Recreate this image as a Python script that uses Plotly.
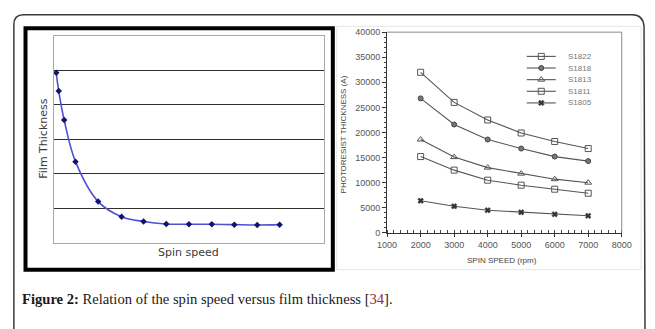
import plotly.graph_objects as go

W, H = 655, 329

# ---------------- data ----------------
# Left chart (schematic, arbitrary units)
left_speed = [0, 0.11, 0.35, 0.85, 1.85, 2.88, 3.85, 4.85, 5.85, 6.86, 7.85, 8.86, 9.85]
left_thick = [4.93, 4.40, 3.56, 2.35, 1.19, 0.75, 0.61, 0.54, 0.53, 0.53, 0.52, 0.51, 0.52]

# Right chart
spin_rpm = [2000, 3000, 4000, 5000, 6000, 7000]
series_names = ["S1822", "S1818", "S1813", "S1811", "S1805"]
s1822 = [32000, 26000, 22500, 19900, 18200, 16800]
s1818 = [26800, 21600, 18600, 16800, 15200, 14300]
s1813 = [18600, 15100, 13000, 11800, 10700, 10000]
s1811 = [15200, 12500, 10500, 9500, 8700, 7900]
s1805 = [6400, 5300, 4500, 4100, 3700, 3400]
y_ticks = [0, 5000, 10000, 15000, 20000, 25000, 30000, 35000, 40000]
x_ticks = [1000, 2000, 3000, 4000, 5000, 6000, 7000, 8000]


def px(x):
    return x / W


def py(y):
    return 1 - y / H


fig = go.Figure()

# Left chart
fig.add_trace(go.Scatter(
    x=left_speed, y=left_thick, mode="lines+markers",
    line=dict(color="#5050d4", width=1.6, shape="spline", smoothing=1.0),
    marker=dict(symbol="diamond", size=5, color="#14146e"),
    xaxis="x", yaxis="y", showlegend=False, hoverinfo="skip"))

# Right chart
symbols = ["square-open", "circle", "triangle-up-open", "square-open", "x"]
sizes = [6, 5, 6, 6, 5]


def marker_style(sym, sz):
    if sym == "circle":
        return dict(symbol=sym, size=sz, color="#777777", line=dict(color="#444444", width=1))
    if sym == "x":
        return dict(symbol=sym, size=sz, color="#333333", line=dict(width=0.5, color="#333333"))
    return dict(symbol=sym, size=sz, color="#555555", line=dict(color="#444444", width=1))


for name, vals, sym, sz in zip(series_names, [s1822, s1818, s1813, s1811, s1805], symbols, sizes):
    fig.add_trace(go.Scatter(
        x=spin_rpm, y=vals, mode="lines+markers", name=name,
        line=dict(color="#555555", width=1.1),
        marker=marker_style(sym, sz), xaxis="x2", yaxis="y2",
        showlegend=False, hoverinfo="skip"))

# Compact legend (glyphs on a pixel-unit overlay axis)
LEG_X0, LEG_X1, LEG_TOP, LEG_STEP, LEG_TEXT_X = 533, 563, 53, 12, 573
ann = []
for i, (name, sym, sz) in enumerate(zip(series_names, symbols, sizes)):
    yy = LEG_TOP + i * LEG_STEP
    fig.add_trace(go.Scatter(
        x=[LEG_X0, (LEG_X0 + LEG_X1) / 2, LEG_X1], y=[yy, yy, yy], mode="lines",
        line=dict(color="#555555", width=1.1), xaxis="x3", yaxis="y3",
        showlegend=False, hoverinfo="skip"))
    fig.add_trace(go.Scatter(
        x=[(LEG_X0 + LEG_X1) / 2], y=[yy], mode="markers",
        marker=marker_style(sym, sz), xaxis="x3", yaxis="y3",
        showlegend=False, hoverinfo="skip"))
    ann.append(dict(text=name, x=px(LEG_TEXT_X), y=py(yy), xref="paper", yref="paper",
                    showarrow=False, xanchor="left", yanchor="middle",
                    font=dict(family="Arial", size=8, color="#777777")))

fig.update_layout(
    width=W, height=H,
    margin=dict(l=0, r=0, t=0, b=0),
    paper_bgcolor="white", plot_bgcolor="rgba(0,0,0,0)",
    showlegend=False,
    xaxis=dict(domain=[px(45), px(324)], range=[-0.115, 11.81], showgrid=False,
               showticklabels=False, ticks="", zeroline=False,
               showline=True, mirror=True, linecolor="#a8a8a8", linewidth=1),
    yaxis=dict(domain=[py(245), py(32)], range=[0, 6], tickvals=[1, 2, 3, 4, 5],
               showgrid=True, gridcolor="#303030", gridwidth=1,
               showticklabels=False, ticks="", zeroline=False,
               showline=True, mirror=True, linecolor="#a8a8a8", linewidth=1),
    xaxis2=dict(domain=[px(389), px(631)], range=[1000, 8000], tickvals=x_ticks,
                showgrid=False, zeroline=False, anchor="y2",
                showline=True, linecolor="#333333", linewidth=1,
                ticks="outside", ticklen=3, tickcolor="#333333",
                minor=dict(dtick=200, ticks="inside", ticklen=3, tickcolor="#444444"),
                tickfont=dict(family="Arial", size=9, color="#555555")),
    yaxis2=dict(domain=[py(235), py(28)], range=[0, 40000], tickvals=y_ticks,
                tickformat="d",
                showgrid=False, zeroline=False, anchor="x2",
                showline=True, linecolor="#333333", linewidth=1,
                ticks="outside", ticklen=4, tickcolor="#333333",
                minor=dict(dtick=1000, ticks="outside", ticklen=2, tickcolor="#444444"),
                tickfont=dict(family="Arial", size=9, color="#555555")),
    xaxis3=dict(domain=[0, 1], range=[0, W], visible=False, anchor="y3", fixedrange=True),
    yaxis3=dict(domain=[0, 1], range=[H, 0], visible=False, anchor="x3", fixedrange=True),
)

shapes = []
# Outer rounded box
path = (f"M {px(4)},{py(335)} L {px(4)},{py(20)} Q {px(4)},{py(10)} {px(14)},{py(10)} "
        f"L {px(642)},{py(10)} Q {px(653)},{py(10)} {px(654)},{py(22)} L {px(655)},{py(335)}")
shapes.append(dict(type="path", xref="paper", yref="paper", path=path,
                   line=dict(color="#3a3a3a", width=1.5)))
# Left panel black frame
shapes.append(dict(type="rect", xref="paper", yref="paper",
                   x0=px(16), x1=px(333), y0=py(273), y1=py(24),
                   line=dict(color="black", width=4)))
# Right panel image border
shapes.append(dict(type="rect", xref="paper", yref="paper",
                   x0=px(337), x1=px(651), y0=py(273), y1=py(22),
                   line=dict(color="#e6e6e6", width=1)))
# Right chart top/right frame (lighter)
shapes.append(dict(type="path", xref="paper", yref="paper",
                   path=f"M {px(389)},{py(28)} L {px(631)},{py(28)} L {px(631)},{py(235)}",
                   line=dict(color="#8a8a8a", width=1)))
fig.update_layout(shapes=shapes)

ann.append(dict(text="Film Thickness", x=px(35), y=py(138), xref="paper", yref="paper",
                textangle=-90, showarrow=False, xanchor="center", yanchor="middle",
                font=dict(family="DejaVu Sans", size=11, color="#3a3a3a")))
ann.append(dict(text="Spin speed", x=px(184), y=py(255), xref="paper", yref="paper",
                showarrow=False, xanchor="center", yanchor="middle",
                font=dict(family="DejaVu Sans", size=11, color="#3a3a3a")))
ann.append(dict(text="SPIN SPEED (rpm)", x=px(508), y=py(264), xref="paper", yref="paper",
                showarrow=False, xanchor="center", yanchor="middle",
                font=dict(family="Arial", size=8, color="#444444")))
ann.append(dict(text="PHOTORESIST THICKNESS (A)", x=px(344), y=py(133), xref="paper", yref="paper",
                textangle=-90, showarrow=False, xanchor="center", yanchor="middle",
                font=dict(family="Arial", size=8, color="#444444")))
ann.append(dict(text="<b>Figure 2:</b> Relation of the spin speed versus film thickness "
                     "[<span style='color:#a3262a'>34</span>].",
                x=px(10), y=py(303), xref="paper", yref="paper",
                showarrow=False, xanchor="left", yanchor="middle",
                font=dict(family="Liberation Serif", size=14.6, color="#1a1a1a")))
fig.update_layout(annotations=ann)

fig.write_html("out.html", config={"staticPlot": True},
               post_script="document.body.style.margin='0';document.body.style.overflow='hidden';")
